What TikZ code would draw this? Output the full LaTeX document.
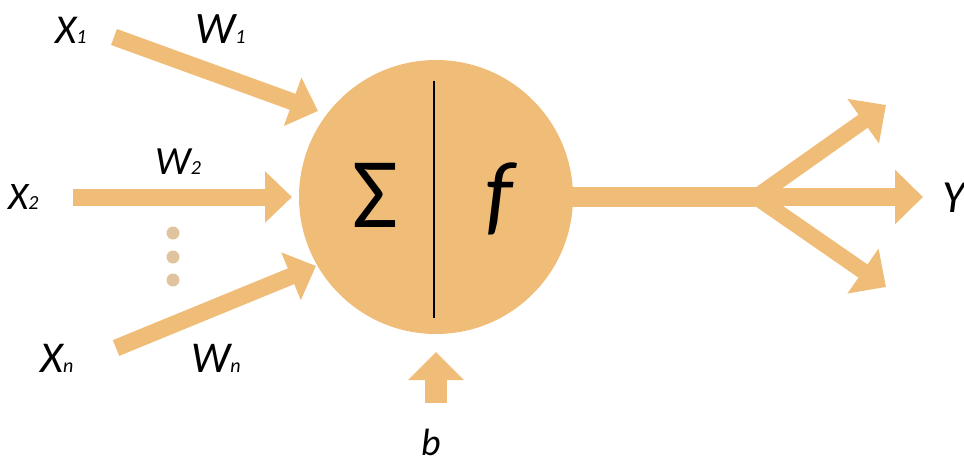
\documentclass[tikz,border=0pt]{standalone}
\usepackage{fontspec}
\setmainfont{Carlito}
\usetikzlibrary{arrows.meta}
\definecolor{org}{RGB}{240,189,120}
\definecolor{dotc}{RGB}{224,196,158}
\tikzset{
  fat/.style={draw=org, line width=17pt, line cap=butt,
    -{Triangle[width=50pt,length=27pt]}},
  lab/.style={font=\itshape, inner sep=0pt, anchor=base west},
  vdot/.style={circle, fill=dotc, minimum size=13pt, inner sep=0pt},
}
\newcommand{\mysub}[1]{{\fontsize{20}{20}\selectfont #1}}
\newcommand{\fs}[1]{\fontsize{#1}{#1}\selectfont}
\begin{document}
\begin{tikzpicture}[x=1pt,y=-1pt]
\useasboundingbox (0,0) rectangle (964,466);
% neuron
\node[circle, fill=org, minimum size=274pt, inner sep=0pt] (neuron) at (436,197) {};
\coordinate (lt) at (434,81);
\coordinate (lb) at (434,318);
\draw[line width=1.2pt] (lt) -- (lb);
\node[inner sep=0pt, font=\fontsize{100}{100}\selectfont] (sum) at (375,195) {Σ};
\node[inner sep=0pt, font=\fontsize{90}{90}\selectfont\itshape] (fun) at (499,199) {f};
% inputs
\coordinate (s1) at (114,37);
\coordinate (t1) at (318,111);
\coordinate (s2) at (73,197);
\coordinate (t2) at (292,197);
\coordinate (sn) at (116,348);
\coordinate (tn) at (316,266);
\draw[fat] (s1) -- (t1);
\draw[fat] (s2) -- (t2);
\draw[fat] (sn) -- (tn);
\node[lab] (x1) at (55,43) {\fs{41}X\mysub{1}};
\node[lab] (w1) at (195,43) {\fs{45}W\mysub{1}};
\node[lab] (x2) at (8,209) {\fs{39}X\mysub{2}};
\node[lab] (w2) at (155,174) {\fs{40}W\mysub{2}};
\node[lab] (xn) at (40,372) {\fs{44}X\mysub{n}};
\node[lab] (wn) at (191,372) {\fs{44}W\mysub{n}};
\node[vdot] (d1) at (173,233) {};
\node[vdot] (d2) at (173,257) {};
\node[vdot] (d3) at (173,280) {};
% bias
\coordinate (bs) at (436,403);
\coordinate (bt) at (436,352);
\draw[draw=org, line width=22pt, -{Triangle[width=54pt,length=28pt]}] (bs) -- (bt);
\node[lab] (b) at (421,455) {\fs{38}b};
% output
\coordinate (os) at (570,197);
\coordinate (br) at (762,197);
\coordinate (oy) at (923,197);
\coordinate (ou) at (886,105);
\coordinate (od) at (886,287);
\draw[draw=org, line width=20pt] (os) -- (br);
\draw[fat, line width=18pt, -{Triangle[width=53pt,length=28pt]}] (br) -- (oy);
\draw[fat, line width=16pt, -{Triangle[width=53pt,length=28pt]}] ([xshift=-6pt]br) -- (ou);
\draw[fat, line width=16pt, -{Triangle[width=53pt,length=28pt]}] ([xshift=-6pt]br) -- (od);
\node[lab] (y) at (942,212) {\fs{46}Y};
\end{tikzpicture}
\end{document}
